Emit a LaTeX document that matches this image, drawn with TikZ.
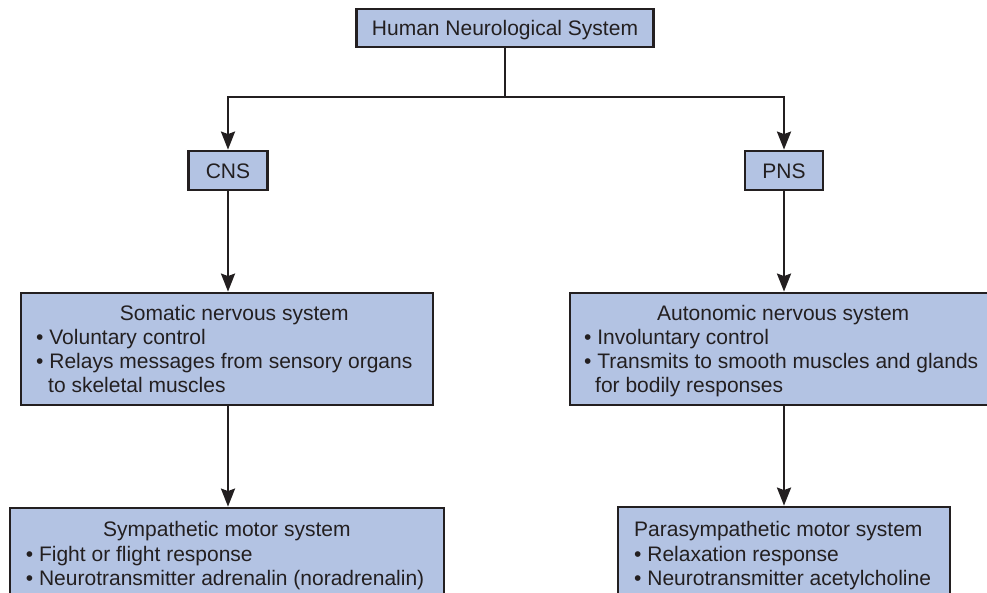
\documentclass[tikz,border=0pt]{standalone}
\usepackage{fontspec}
\setmainfont{Liberation Sans}
\usetikzlibrary{arrows.meta}
\definecolor{boxfill}{RGB}{179,195,227}
\definecolor{ink}{RGB}{35,31,32}
\begin{document}
\begin{tikzpicture}[x=1pt,y=-1pt,
  every node/.style={font=\fontsize{21}{24.3}\selectfont, text=ink},
  box/.style={draw=ink, line width=2.8pt, fill=boxfill, inner sep=0pt, text height=15pt, text depth=0pt},
  lbl/.style={inner sep=0pt, anchor=base west},
  conn/.style={draw=ink, line width=2.5pt},
  arr/.style={conn, -{Stealth[length=18pt,width=14pt,inset=2.5pt]}}]
\useasboundingbox (0,0) rectangle (987,592);
\fill[white] (0,0) rectangle (987,592);
\clip (0,0) rectangle (987,592);

% boxes
\node[box, minimum width=297pt, minimum height=38pt] (top) at (505,28) {Human Neurological System};
\node[box, minimum width=79pt, minimum height=39pt] (cns) at (228,170.5) {CNS};
\node[box, minimum width=78pt, minimum height=39pt] (pns) at (784,170.5) {PNS};
\node[box, minimum width=412pt, minimum height=112pt] (som) at (227,349) {};
\node[box, minimum width=430pt, minimum height=112pt] (aut) at (785,349) {};
\node[box, minimum width=434pt, minimum height=102pt] (sym) at (227,559) {};
\node[box, minimum width=332pt, minimum height=103pt] (par) at (784,558.5) {};

% texts
\node[lbl] (somt) at (36,320) {\parbox[t]{396pt}{\centering Somatic nervous system\par\raggedright
  \mbox{\textbullet\ Voluntary control}\par
  \mbox{\textbullet\ Relays messages from sensory organs}\par
  \mbox{\hspace*{12pt}to skeletal muscles}}};
\node[lbl] (autt) at (584,320) {\parbox[t]{398pt}{\centering Autonomic nervous system\par\raggedright
  \mbox{\textbullet\ Involuntary control}\par
  \mbox{\textbullet\ Transmits to smooth muscles and glands}\par
  \mbox{\hspace*{11pt}for bodily responses}}};
\node[lbl] (symt) at (25.7,536.7) {\parbox[t]{402pt}{\centering Sympathetic motor system\par\raggedright
  \mbox{\textbullet\ Fight or flight response}\par
  \mbox{\textbullet\ Neurotransmitter adrenalin (noradrenalin)}}};
\node[lbl] (part) at (634,536.7) {\parbox[t]{320pt}{\raggedright
  \mbox{Parasympathetic motor system}\par
  \mbox{\textbullet\ Relaxation response}\par
  \mbox{\textbullet\ Neurotransmitter acetylcholine}}};

% connectors
\coordinate (split) at (505,97);
\draw[conn] (top.south) -- (split);
\draw[arr] (split) -| (cns.north);
\draw[arr] (split) -| (pns.north);
\draw[arr] (cns.south) -- (cns.south |- som.north);
\draw[arr] (pns.south) -- (pns.south |- aut.north);
\draw[arr] (cns.south |- som.south) -- (cns.south |- sym.north);
\draw[arr] (pns.south |- aut.south) -- (pns.south |- par.north);
\end{tikzpicture}
\end{document}
